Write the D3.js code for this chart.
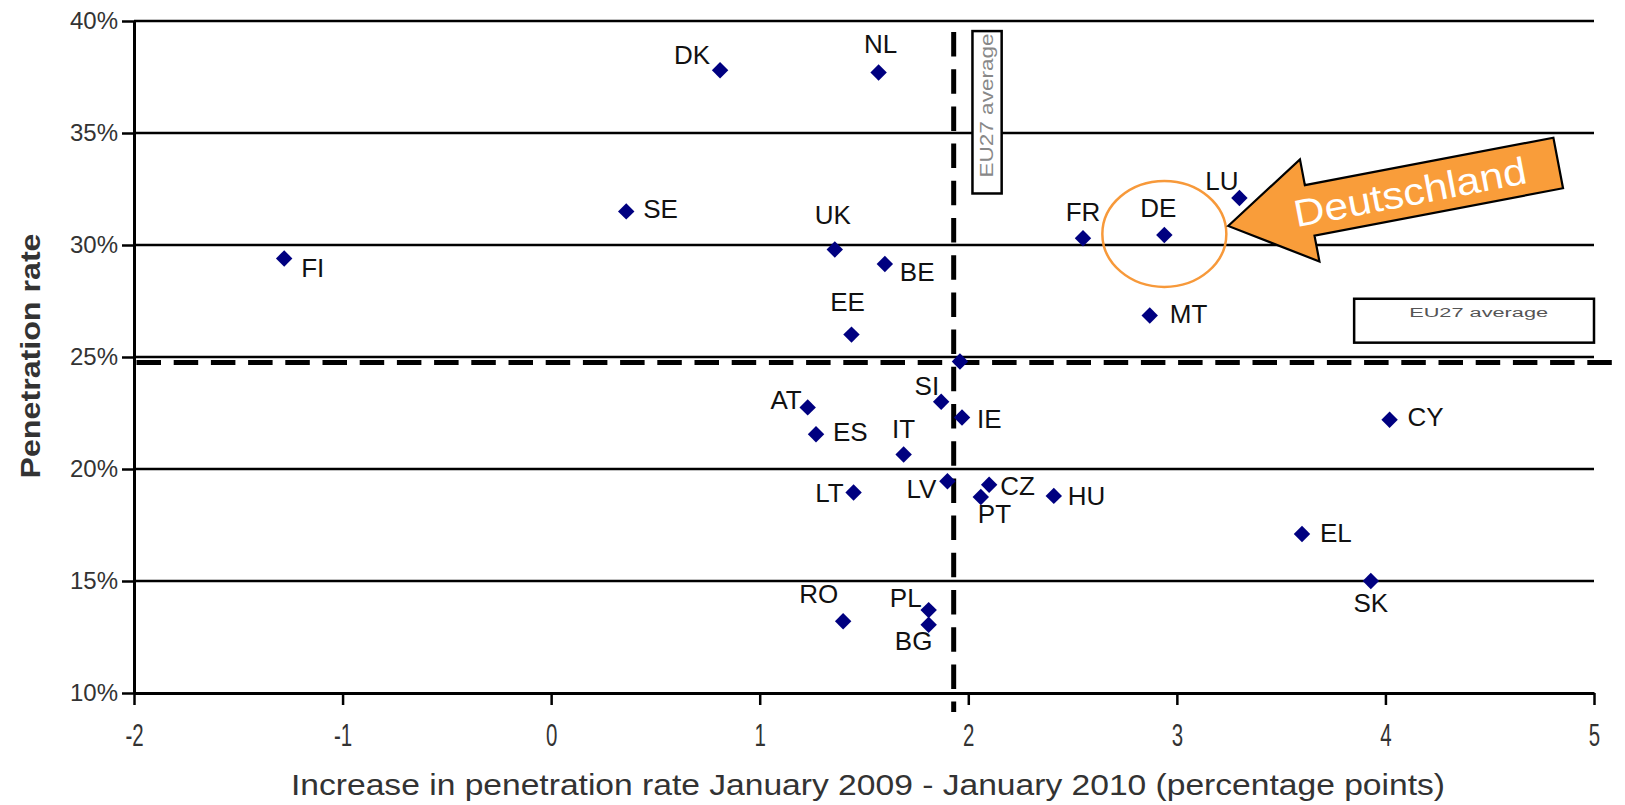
<!DOCTYPE html>
<html>
<head>
<meta charset="utf-8">
<script src="https://cdn.jsdelivr.net/npm/d3@7"></script>
<style>
  body { margin: 0; background: #fff; }
  .chart text { font-family: "Liberation Sans", Arial, sans-serif; }
</style>
</head>
<body>
<svg class="chart"></svg>
<script>
// country codes with increase (pp) and penetration rate (%)
var countries   = ["DK", "NL", "SE", "FI", "UK", "BE", "EE", "FR", "DE", "LU", "MT", "SI", "IE", "AT",
                   "ES", "IT", "LT", "LV", "CZ", "PT", "HU", "RO", "PL", "BG", "CY", "EL", "SK"];
var increase    = [0.81, 1.57, 0.36, -1.28, 1.36, 1.60, 1.44, 2.55, 2.94, 3.30, 2.87, 1.87, 1.97, 1.23,
                   1.27, 1.69, 1.45, 1.90, 2.10, 2.06, 2.41, 1.40, 1.81, 1.81, 4.02, 3.60, 3.93];
var penetration = [37.8, 37.7, 31.5, 29.4, 29.8, 29.15, 26.0, 30.3, 30.45, 32.1, 26.85, 23.0, 22.3, 22.75,
                   21.55, 20.65, 18.95, 19.45, 19.3, 18.75, 18.8, 13.2, 13.7, 13.05, 22.2, 17.1, 15.0];

var euAvgPoint = [1.96, 24.8];   // EU27 marker
var euAvgX = 1.93;               // vertical dashed line
var euAvgY = 24.76;              // horizontal dashed line

var xTicks = [-2, -1, 0, 1, 2, 3, 4, 5];
var yTicks = [10, 15, 20, 25, 30, 35, 40];

var xTitle = "Increase in penetration rate January 2009 - January 2010 (percentage points)";
var yTitle = "Penetration rate";
var avgLabel = "EU27 average";
var arrowLabel = "Deutschland";

// label placement: dx, dy, anchor
var labelPos = {
  DK: [-10, -6, "end"],  NL: [2, -20, "middle"], SE: [17, 7, "start"],  FI: [17, 19, "start"],
  UK: [-2, -25, "middle"], BE: [15, 17, "start"], EE: [-4, -24, "middle"], FR: [0, -17, "middle"],
  DE: [-6, -18, "middle"], LU: [-1, -8, "end"],  MT: [20, 7, "start"],  SI: [-2, -7, "end"],
  IE: [15, 11, "start"], AT: [-6, 2, "end"],     ES: [17, 7, "start"],  IT: [0, -16, "middle"],
  LT: [-10, 9, "end"],   LV: [-11, 17, "end"],   CZ: [11, 10, "start"], PT: [-3, 26, "start"],
  HU: [14, 9, "start"],  RO: [-5, -18, "end"],   PL: [-7, -3, "end"],   BG: [-15, 25, "middle"],
  CY: [18, 6, "start"],  EL: [18, 8, "start"],   SK: [0, 31, "middle"]
};

var width = 1625, height = 805;
var mLeft = 134, mRight = 1594, mTop = 21, mBottom = 693;

var x = d3.scaleLinear().domain([-2, 5]).range([mLeft, mRight]);
var y = d3.scaleLinear().domain([10, 40]).range([mBottom, mTop]);

var chart = d3.select(".chart").attr("width", width).attr("height", height);

// grid lines
chart.append("g").selectAll("line")
  .data(yTicks.slice(1))
  .enter().append("line")
    .attr("x1", mLeft).attr("x2", mRight)
    .attr("y1", function(d) { return y(d); })
    .attr("y2", function(d) { return y(d); })
    .attr("stroke", "#000").attr("stroke-width", 2.5);

// axes
var yAxis = chart.append("g")
  .attr("transform", "translate(" + mLeft + ",0)")
  .call(d3.axisLeft(y).tickValues(yTicks).tickFormat(function(d) { return d + "%"; })
    .tickSize(12).tickSizeOuter(0).tickPadding(4));
yAxis.select(".domain").attr("stroke-width", 3);
yAxis.selectAll(".tick line").attr("stroke-width", 2.5);
yAxis.selectAll(".tick text").attr("font-size", "24px").attr("fill", "#333")
  .attr("font-family", "Liberation Sans, Arial, sans-serif");

var xAxis = chart.append("g")
  .attr("transform", "translate(0," + mBottom + ")")
  .call(d3.axisBottom(x).tickValues(xTicks).tickFormat(function(d) { return String(d); })
    .tickSize(12).tickSizeOuter(0).tickPadding(19));
xAxis.select(".domain").attr("stroke-width", 3);
xAxis.selectAll(".tick line").attr("stroke-width", 2.5);
xAxis.selectAll(".tick text").attr("font-size", "31px").attr("fill", "#333")
  .attr("font-family", "Liberation Sans, Arial, sans-serif")
  .attr("transform", "scale(0.66,1)");

// average lines
chart.append("line")
  .attr("x1", x(euAvgX)).attr("x2", x(euAvgX))
  .attr("y1", mTop + 11).attr("y2", mBottom + 19)
  .attr("stroke", "#000").attr("stroke-width", 5).attr("stroke-dasharray", "24.5,12.7");
chart.append("line")
  .attr("x1", mLeft + 2.5).attr("x2", width - 12)
  .attr("y1", y(euAvgY)).attr("y2", y(euAvgY))
  .attr("stroke", "#000").attr("stroke-width", 5).attr("stroke-dasharray", "24.5,12.7");

// EU27 average boxes
var vBox = [2.02, 2.16, 32.3, 39.55];
chart.append("rect")
  .attr("x", x(vBox[0])).attr("y", y(vBox[3]))
  .attr("width", x(vBox[1]) - x(vBox[0])).attr("height", y(vBox[2]) - y(vBox[3]))
  .attr("fill", "#fff").attr("stroke", "#000").attr("stroke-width", 2.5);
chart.append("text")
  .attr("transform", "translate(" + (x(vBox[1]) - 9) + "," + (y(vBox[2]) - 16) + ") rotate(-90)")
  .attr("font-size", "19px").attr("fill", "#888")
  .attr("textLength", 144).attr("lengthAdjust", "spacingAndGlyphs")
  .text(avgLabel);

var hBox = [3.85, 5.0, 25.64, 27.6];
chart.append("rect")
  .attr("x", x(hBox[0])).attr("y", y(hBox[3]))
  .attr("width", x(hBox[1]) - x(hBox[0])).attr("height", y(hBox[2]) - y(hBox[3]))
  .attr("fill", "#fff").attr("stroke", "#000").attr("stroke-width", 2.5);
chart.append("text")
  .attr("x", x(hBox[0]) + 55).attr("y", y(hBox[3]) + 18)
  .attr("font-size", "12px").attr("fill", "#555")
  .attr("textLength", 139).attr("lengthAdjust", "spacingAndGlyphs")
  .text(avgLabel);

// points
var diamond = d3.symbol().type(d3.symbolSquare).size(135);
var pts = countries.map(function(c, i) { return { name: c, x: increase[i], y: penetration[i] }; });

chart.append("g").selectAll("path")
  .data(pts.concat([{ name: "", x: euAvgPoint[0], y: euAvgPoint[1] }]))
  .enter().append("path")
    .attr("d", diamond)
    .attr("transform", function(d) { return "translate(" + x(d.x) + "," + y(d.y) + ") rotate(45)"; })
    .attr("fill", "#000080");

chart.append("g").selectAll("text")
  .data(pts)
  .enter().append("text")
    .attr("x", function(d) { return x(d.x) + labelPos[d.name][0]; })
    .attr("y", function(d) { return y(d.y) + labelPos[d.name][1]; })
    .attr("text-anchor", function(d) { return labelPos[d.name][2]; })
    .attr("font-size", "26px").attr("fill", "#111")
    .text(function(d) { return d.name; });

// Deutschland highlight
var de = pts[countries.indexOf("DE")];
chart.append("ellipse")
  .attr("cx", x(de.x)).attr("cy", y(de.y) - 1)
  .attr("rx", 62).attr("ry", 53)
  .attr("fill", "none").attr("stroke", "#f7993a").attr("stroke-width", 2.5);

var tip = [3.246, 30.85];
var ang = -10.8;
var headLen = 83, headHalf = 52, shaftHalf = 25.7, arrowLen = 336;
var arrowPts = [[0, 0], [headLen, -headHalf], [headLen, -shaftHalf], [arrowLen, -shaftHalf],
                [arrowLen, shaftHalf], [headLen, shaftHalf], [headLen, headHalf]];
var arrow = chart.append("g")
  .attr("transform", "translate(" + x(tip[0]) + "," + y(tip[1]) + ") rotate(" + ang + ")");
arrow.append("path")
  .attr("d", d3.line()(arrowPts) + "Z")
  .attr("fill", "#f99d3a").attr("stroke", "#000").attr("stroke-width", 2.2)
  .attr("stroke-linejoin", "miter");
arrow.append("text")
  .attr("x", 185).attr("y", 1)
  .attr("text-anchor", "middle").attr("dominant-baseline", "central")
  .attr("font-size", "38px").attr("fill", "#fff")
  .attr("textLength", 236).attr("lengthAdjust", "spacingAndGlyphs")
  .text(arrowLabel);

// axis titles
chart.append("text")
  .attr("x", 291).attr("y", 795)
  .attr("font-size", "30px").attr("fill", "#333")
  .attr("textLength", 1154).attr("lengthAdjust", "spacingAndGlyphs")
  .text(xTitle);

chart.append("text")
  .attr("transform", "translate(40,356) rotate(-90)")
  .attr("text-anchor", "middle")
  .attr("font-size", "28px").attr("font-weight", "bold").attr("fill", "#333")
  .attr("textLength", 245).attr("lengthAdjust", "spacingAndGlyphs")
  .text(yTitle);
</script>
</body>
</html>
